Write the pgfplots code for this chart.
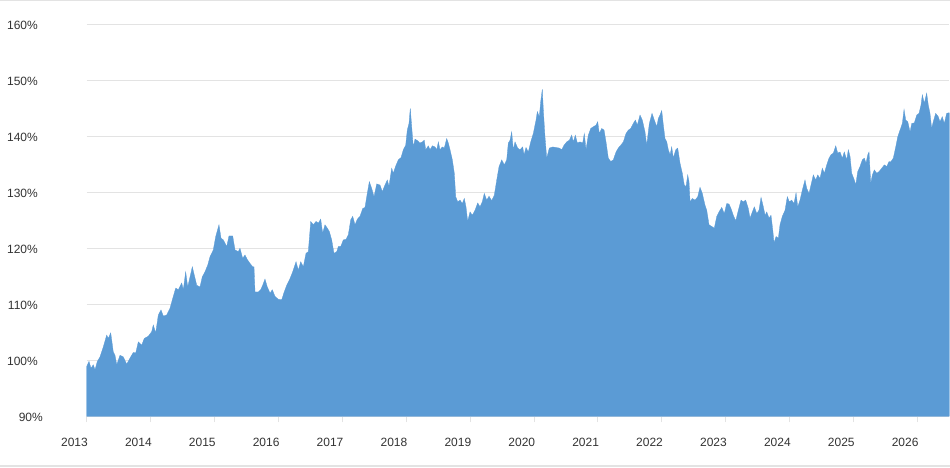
\documentclass[border=0pt]{standalone}
\usepackage{pgfplots}
\pgfplotsset{compat=1.18}
\usepackage{fontspec}
\setmainfont{Liberation Sans}
\definecolor{areablue}{HTML}{5B9BD5}
\definecolor{gridgray}{HTML}{E3E3E3}
\definecolor{txtgray}{HTML}{333333}
\begin{document}
\begin{tikzpicture}
\begin{axis}[
  at={(0,0)}, anchor=south west,
  scale only axis, width=862.65bp, height=392bp,
  xmin=0, xmax=13.5, ymin=90, ymax=160,
  axis x line*=bottom, axis y line*=left,
  x axis line style={gridgray, line width=1bp},
  y axis line style={draw=none},
  xtick={0,1,2,3,4,5,6,7,8,9,10,11,12,13},
  xticklabels={2013,2014,2015,2016,2017,2018,2019,2020,2021,2022,2023,2024,2025,2026},
  ytick={90,100,110,120,130,140,150,160},
  yticklabels={\raisebox{0bp}{90\%}\hspace*{-5bp},100\%,110\%,120\%,130\%,140\%,150\%,160\%},
  ymajorgrids, grid style={gridgray, line width=1bp},
  xtick style={gridgray, line width=1bp},
  ytick style={draw=none},
  major tick length=6bp, tick align=outside,
  xticklabel style={anchor=north east, inner sep=0pt, xshift=1.3bp, yshift=-16bp,
    font=\fontsize{12bp}{14bp}\selectfont, text=txtgray},
  yticklabel style={anchor=east, inner sep=0pt, xshift=-42.7bp, yshift=-1.5bp,
    font=\fontsize{12bp}{14bp}\selectfont, text=txtgray},
  clip=true,
]
\addplot[fill=areablue, draw=areablue, line width=0.3bp] table[row sep=\\] {
x y\\
0 98.9\\ 0.036 99.8\\ 0.067 98.6\\ 0.103 99.2\\ 0.130 98.3\\ 0.166 99.8\\ 0.208 100.6\\ 0.260 102.4\\
0.313 104.5\\ 0.338 103.9\\ 0.376 104.9\\ 0.416 101.5\\ 0.443 100.9\\ 0.470 99.2\\ 0.521 100.9\\ 0.573 100.6\\
0.626 99.3\\ 0.678 100.4\\ 0.729 101.4\\ 0.767 101.3\\ 0.808 103.3\\ 0.861 102.7\\ 0.901 103.9\\ 0.964 104.3\\
1.017 105.1\\ 1.042 106.3\\ 1.080 104.9\\ 1.121 108.1\\ 1.163 109.0\\ 1.199 107.9\\ 1.252 108.1\\ 1.304 109.3\\
1.340 110.8\\ 1.393 112.9\\ 1.434 112.6\\ 1.487 113.8\\ 1.512 112.6\\ 1.549 115.8\\ 1.581 113.1\\ 1.617 114.9\\
1.653 116.7\\ 1.684 115.2\\ 1.722 113.4\\ 1.773 113.1\\ 1.809 114.9\\ 1.851 115.8\\ 1.894 117.0\\ 1.930 118.5\\
1.981 119.7\\ 2.019 122.1\\ 2.070 124.2\\ 2.102 121.8\\ 2.138 121.5\\ 2.191 120.3\\ 2.227 122.2\\ 2.285 122.2\\
2.321 119.7\\ 2.373 119.4\\ 2.399 120.0\\ 2.441 118.2\\ 2.477 118.8\\ 2.513 118.0\\ 2.556 117.3\\ 2.598 116.7\\
2.618 116.7\\ 2.634 112.2\\ 2.686 112.2\\ 2.723 112.6\\ 2.754 113.4\\ 2.790 114.5\\ 2.826 113.1\\ 2.869 112.0\\
2.905 112.6\\ 2.947 111.4\\ 2.999 110.9\\ 3.052 110.8\\ 3.088 112.1\\ 3.130 113.4\\ 3.182 114.6\\ 3.224 115.8\\
3.276 117.6\\ 3.312 116.1\\ 3.349 117.6\\ 3.390 116.7\\ 3.432 119.1\\ 3.468 119.4\\ 3.506 124.8\\ 3.546 124.2\\
3.589 124.8\\ 3.625 124.5\\ 3.662 125.2\\ 3.693 122.7\\ 3.729 124.2\\ 3.765 123.6\\ 3.797 123.0\\ 3.834 121.5\\
3.870 119.1\\ 3.913 119.4\\ 3.938 120.3\\ 3.975 120.3\\ 4.016 121.5\\ 4.058 121.6\\ 4.094 122.4\\ 4.132 125.1\\
4.163 125.7\\ 4.199 124.2\\ 4.235 125.2\\ 4.277 125.7\\ 4.319 127.1\\ 4.355 127.3\\ 4.391 129.8\\ 4.423 131.9\\
4.460 130.7\\ 4.496 129.2\\ 4.539 131.5\\ 4.590 131.3\\ 4.626 130.1\\ 4.668 131.3\\ 4.704 132.2\\ 4.731 131.1\\
4.773 134.3\\ 4.798 133.4\\ 4.836 134.7\\ 4.877 135.8\\ 4.919 136.2\\ 4.955 137.6\\ 4.992 138.4\\ 5.017 141.1\\
5.044 142.3\\ 5.064 145.0\\ 5.086 141.7\\ 5.111 138.1\\ 5.138 139.5\\ 5.180 139.2\\ 5.216 138.8\\ 5.252 139.0\\
5.283 139.3\\ 5.305 137.6\\ 5.346 138.3\\ 5.373 137.6\\ 5.409 138.3\\ 5.451 138.1\\ 5.478 137.6\\ 5.503 139.0\\
5.529 137.6\\ 5.565 138.1\\ 5.596 137.9\\ 5.634 139.6\\ 5.659 138.8\\ 5.686 137.6\\ 5.722 135.8\\ 5.753 133.4\\
5.775 129.2\\ 5.806 128.3\\ 5.842 128.6\\ 5.878 128.0\\ 5.909 128.9\\ 5.936 127.4\\ 5.962 124.8\\ 5.999 126.5\\
6.035 125.9\\ 6.077 126.8\\ 6.119 128.1\\ 6.155 127.4\\ 6.191 128.3\\ 6.222 129.8\\ 6.260 128.6\\ 6.296 129.3\\
6.338 128.5\\ 6.379 129.5\\ 6.417 132.2\\ 6.453 134.6\\ 6.495 135.8\\ 6.535 134.9\\ 6.573 135.8\\ 6.598 138.8\\
6.625 139.3\\ 6.651 140.8\\ 6.676 137.6\\ 6.703 139.0\\ 6.745 137.9\\ 6.781 137.6\\ 6.823 138.1\\ 6.844 136.7\\
6.875 138.0\\ 6.911 137.2\\ 6.949 139.0\\ 6.989 140.5\\ 7.032 142.9\\ 7.052 144.4\\ 7.083 143.5\\ 7.105 146.2\\
7.130 148.4\\ 7.146 144.7\\ 7.172 139.9\\ 7.199 136.1\\ 7.240 137.9\\ 7.293 138.1\\ 7.345 138.0\\ 7.396 137.9\\
7.434 137.6\\ 7.470 138.4\\ 7.512 139.0\\ 7.553 139.3\\ 7.590 140.2\\ 7.615 139.0\\ 7.647 140.2\\ 7.678 138.8\\
7.720 139.0\\ 7.762 138.8\\ 7.787 140.5\\ 7.814 137.6\\ 7.850 140.2\\ 7.888 141.4\\ 7.928 141.7\\ 7.971 142.0\\
7.997 142.6\\ 8.022 140.5\\ 8.060 141.4\\ 8.096 141.1\\ 8.127 139.0\\ 8.163 136.1\\ 8.201 135.5\\ 8.241 135.8\\
8.284 137.2\\ 8.319 137.9\\ 8.357 138.4\\ 8.398 139.0\\ 8.440 140.5\\ 8.476 141.1\\ 8.514 141.4\\ 8.554 142.3\\
8.586 142.9\\ 8.617 142.0\\ 8.659 143.8\\ 8.695 142.9\\ 8.737 140.8\\ 8.764 138.4\\ 8.805 142.3\\ 8.847 144.1\\
8.883 142.9\\ 8.921 141.7\\ 8.946 143.2\\ 8.972 143.8\\ 8.999 144.6\\ 9.024 142.0\\ 9.050 139.6\\ 9.077 139.0\\
9.102 137.6\\ 9.129 136.7\\ 9.155 138.1\\ 9.180 136.1\\ 9.218 137.6\\ 9.249 137.9\\ 9.285 135.2\\ 9.321 133.4\\
9.352 131.3\\ 9.379 131.0\\ 9.406 133.1\\ 9.426 131.9\\ 9.442 128.3\\ 9.478 128.9\\ 9.520 128.6\\ 9.562 129.2\\
9.598 130.9\\ 9.634 129.8\\ 9.676 127.7\\ 9.703 126.8\\ 9.739 124.2\\ 9.781 123.9\\ 9.822 123.6\\ 9.860 125.7\\
9.895 126.5\\ 9.938 127.3\\ 9.978 126.2\\ 10.016 128.0\\ 10.052 127.9\\ 10.083 127.1\\ 10.119 125.9\\ 10.157 124.9\\
10.198 126.8\\ 10.240 128.6\\ 10.276 128.3\\ 10.313 128.6\\ 10.354 127.1\\ 10.381 125.4\\ 10.417 126.5\\ 10.448 127.4\\
10.486 126.2\\ 10.521 126.8\\ 10.553 129.1\\ 10.589 127.4\\ 10.616 125.9\\ 10.642 126.5\\ 10.678 125.4\\ 10.709 125.9\\
10.736 123.3\\ 10.756 121.0\\ 10.788 122.1\\ 10.824 121.8\\ 10.850 124.2\\ 10.886 125.7\\ 10.929 126.8\\ 10.964 129.2\\
10.996 128.3\\ 11.033 128.6\\ 11.069 128.0\\ 11.101 129.9\\ 11.127 127.4\\ 11.163 128.6\\ 11.199 130.4\\ 11.241 132.2\\
11.268 130.7\\ 11.304 129.8\\ 11.335 131.3\\ 11.371 133.1\\ 11.409 132.2\\ 11.440 133.1\\ 11.476 132.5\\ 11.512 134.3\\
11.544 133.4\\ 11.581 134.9\\ 11.617 136.1\\ 11.648 136.7\\ 11.684 137.0\\ 11.722 138.3\\ 11.753 137.0\\ 11.789 137.2\\
11.825 136.1\\ 11.856 137.2\\ 11.894 135.8\\ 11.919 137.6\\ 11.946 136.4\\ 11.972 133.4\\ 12.013 132.2\\ 12.035 131.3\\
12.066 133.7\\ 12.102 134.6\\ 12.138 135.8\\ 12.170 136.1\\ 12.196 135.2\\ 12.223 136.7\\ 12.243 137.2\\ 12.270 131.6\\
12.295 133.1\\ 12.326 134.0\\ 12.364 133.4\\ 12.400 133.7\\ 12.442 134.3\\ 12.483 134.9\\ 12.520 134.6\\ 12.556 135.5\\
12.587 135.5\\ 12.623 136.1\\ 12.661 138.1\\ 12.692 139.9\\ 12.728 141.1\\ 12.764 142.3\\ 12.791 144.8\\ 12.817 142.9\\
12.849 142.6\\ 12.885 140.8\\ 12.911 142.3\\ 12.952 142.4\\ 12.990 143.8\\ 13.025 144.1\\ 13.057 145.6\\ 13.077 147.4\\
13.108 145.9\\ 13.145 147.7\\ 13.170 145.6\\ 13.197 144.1\\ 13.223 141.4\\ 13.248 142.6\\ 13.286 144.1\\ 13.327 143.5\\
13.353 142.6\\ 13.389 143.5\\ 13.421 142.3\\ 13.458 144.1\\ 13.494 144.2\\ 13.5 144.2\\
} \closedcycle;
\end{axis}
\pgfresetboundingbox
\path[use as bounding box] (-86.7bp,-51.7bp) rectangle (863.3bp,416.3bp);
\draw[gridgray, line width=1.5bp] (-86.7bp,415.55bp) -- (863.3bp,415.55bp);
\draw[gridgray, line width=1.5bp] (-86.7bp,-49.7bp) -- (863.3bp,-49.7bp);
\end{tikzpicture}
\end{document}
